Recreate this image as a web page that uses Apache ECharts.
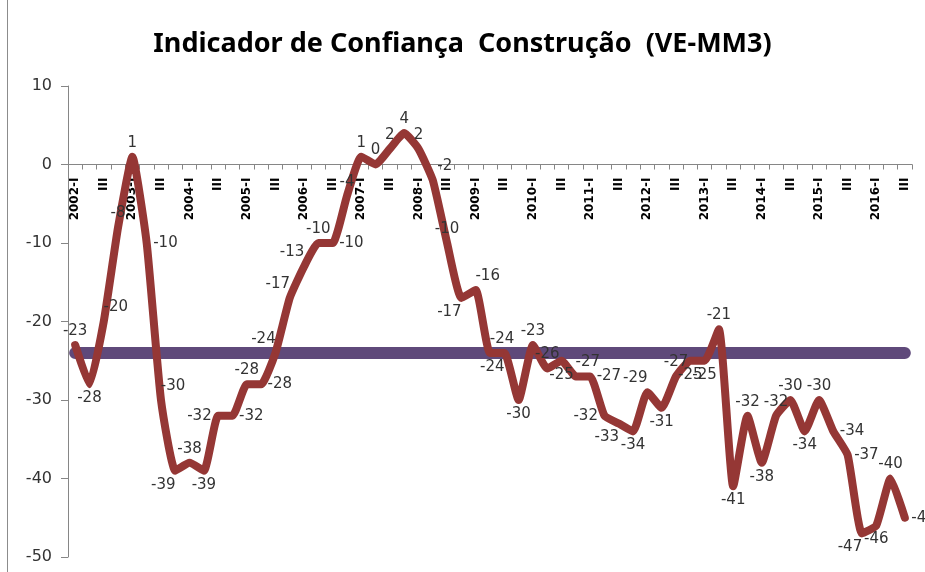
<!DOCTYPE html>
<html>
<head>
<meta charset="utf-8">
<script src="https://cdn.jsdelivr.net/npm/echarts@6/dist/echarts.min.js"></script>
<style>
  html, body { margin: 0; padding: 0; background: #fff; }
  #chart { width: 925px; height: 572px; }
</style>
</head>
<body>
<div id="chart"></div>
<script>
// Indicador de Confiança Construção (VE-MM3), trimestral 2002-I .. 2016-III
var years = [2002, 2003, 2004, 2005, 2006, 2007, 2008, 2009, 2010, 2011, 2012, 2013, 2014, 2015, 2016];
var quarters = ['I', 'II', 'III', 'IV'];

var values = [
  -23, -28, -20, -8,
    1, -10, -30, -39,
  -38, -39, -32, -32,
  -28, -28, -24, -17,
  -13, -10, -10, -4,
    1,   0,   2,   4,
    2,  -2, -10, -17,
  -16, -24, -24, -30,
  -23, -26, -25, -27,
  -27, -32, -33, -34,
  -29, -31, -27, -25,
  -25, -21, -41, -32,
  -38, -32, -30, -34,
  -30, -34, -37, -47,
  -46, -40, -45
];

// linha horizontal (média)
var average = -24;

var yTicks = { min: -50, max: 10, step: 10 };

// onde fica cada rótulo (t, b, l, r, tl, tr, bl, br)
var labelSide = [
  't', 'b', 'tr', 't', 't', 'r', 'tr', 'bl', 't', 'b',
  'l', 'r', 't', 'r', 'tl', 'tl', 'tl', 't', 'r', 't',
  't', 't', 't', 't', 't', 'tr', 't', 'bl', 'tr', 'tr',
  'bl', 'b', 't', 't', 'b', 'tr', 'r', 'l', 'bl', 'b',
  'tl', 'b', 't', 'b', 'b', 't', 'b', 't', 'b', 't',
  't', 'b', 't', 'r', 'r', 'bl', 'b', 't', 'r'
];

var categories = [];
years.forEach(function (y) {
  quarters.forEach(function (q, k) {
    categories.push(k === 0 ? y + '-' + q : q);
  });
});
categories = categories.slice(0, values.length);

var sideMap = {
  t: { position: 'top' },
  b: { position: 'bottom' },
  l: { position: 'left' },
  r: { position: 'right' },
  tl: { position: 'top', offset: [-12, 0] },
  tr: { position: 'top', offset: [12, 0] },
  bl: { position: 'bottom', offset: [-12, 0] },
  br: { position: 'bottom', offset: [12, 0] }
};

// grade: o eixo x fica na linha do zero
var gridTop = 86, gridBottom = 15, chartH = 572;
var plotH = chartH - gridTop - gridBottom;
var zeroY = gridTop + plotH * yTicks.max / (yTicks.max - yTicks.min);
var xAxisOffset = -(chartH - gridBottom - zeroY);

var chart = echarts.init(document.getElementById('chart'));

chart.setOption({
  animation: false,
  backgroundColor: '#fff',
  title: {
    text: 'Indicador de Confiança  Construção  (VE-MM3)',
    left: 'center',
    top: 26,
    textStyle: {
      fontFamily: 'Noto Sans',
      fontWeight: 'bold',
      fontSize: 27,
      color: '#000'
    }
  },
  graphic: [{
    type: 'line',
    shape: { x1: 7.5, y1: 0, x2: 7.5, y2: 572 },
    style: { stroke: '#8c8c8c', lineWidth: 1 }
  }],
  grid: { left: 68, right: 13, top: gridTop, bottom: gridBottom, outerBoundsMode: 'none', containLabel: false },
  xAxis: {
    type: 'category',
    data: categories,
    boundaryGap: true,
    position: 'bottom',
    offset: xAxisOffset,
    axisLine: { onZero: false, lineStyle: { color: '#868686', width: 1 } },
    axisTick: { show: true, interval: 0, length: 5, lineStyle: { color: '#868686' } },
    axisLabel: {
      interval: 1,
      rotate: 90,
      margin: 13,
      fontFamily: 'DejaVu Sans',
      fontWeight: 'bold',
      fontSize: 12,
      color: '#000'
    }
  },
  yAxis: {
    type: 'value',
    min: yTicks.min,
    max: yTicks.max,
    interval: yTicks.step,
    axisLine: { show: true, lineStyle: { color: '#868686', width: 1 } },
    axisTick: { show: true, length: 7, lineStyle: { color: '#868686' } },
    splitLine: { show: false },
    axisLabel: {
      margin: 16,
      fontFamily: 'DejaVu Sans',
      fontSize: 16,
      color: '#333'
    }
  },
  series: [
    {
      name: 'Média',
      type: 'line',
      data: categories.map(function () { return average; }),
      symbol: 'none',
      lineStyle: { color: '#5F497A', width: 12, cap: 'round' },
      z: 2
    },
    {
      name: 'VE-MM3',
      type: 'line',
      data: values.map(function (v, i) {
        return { value: v, label: sideMap[labelSide[i]] };
      }),
      smooth: 0.15,
      symbol: 'circle',
      symbolSize: 1,
      itemStyle: { color: '#953735' },
      lineStyle: { color: '#953735', width: 8, join: 'round', cap: 'round' },
      label: {
        show: true,
        distance: 6,
        fontFamily: 'DejaVu Sans',
        fontSize: 15,
        color: '#333'
      },
      z: 3
    }
  ]
});
</script>
</body>
</html>
